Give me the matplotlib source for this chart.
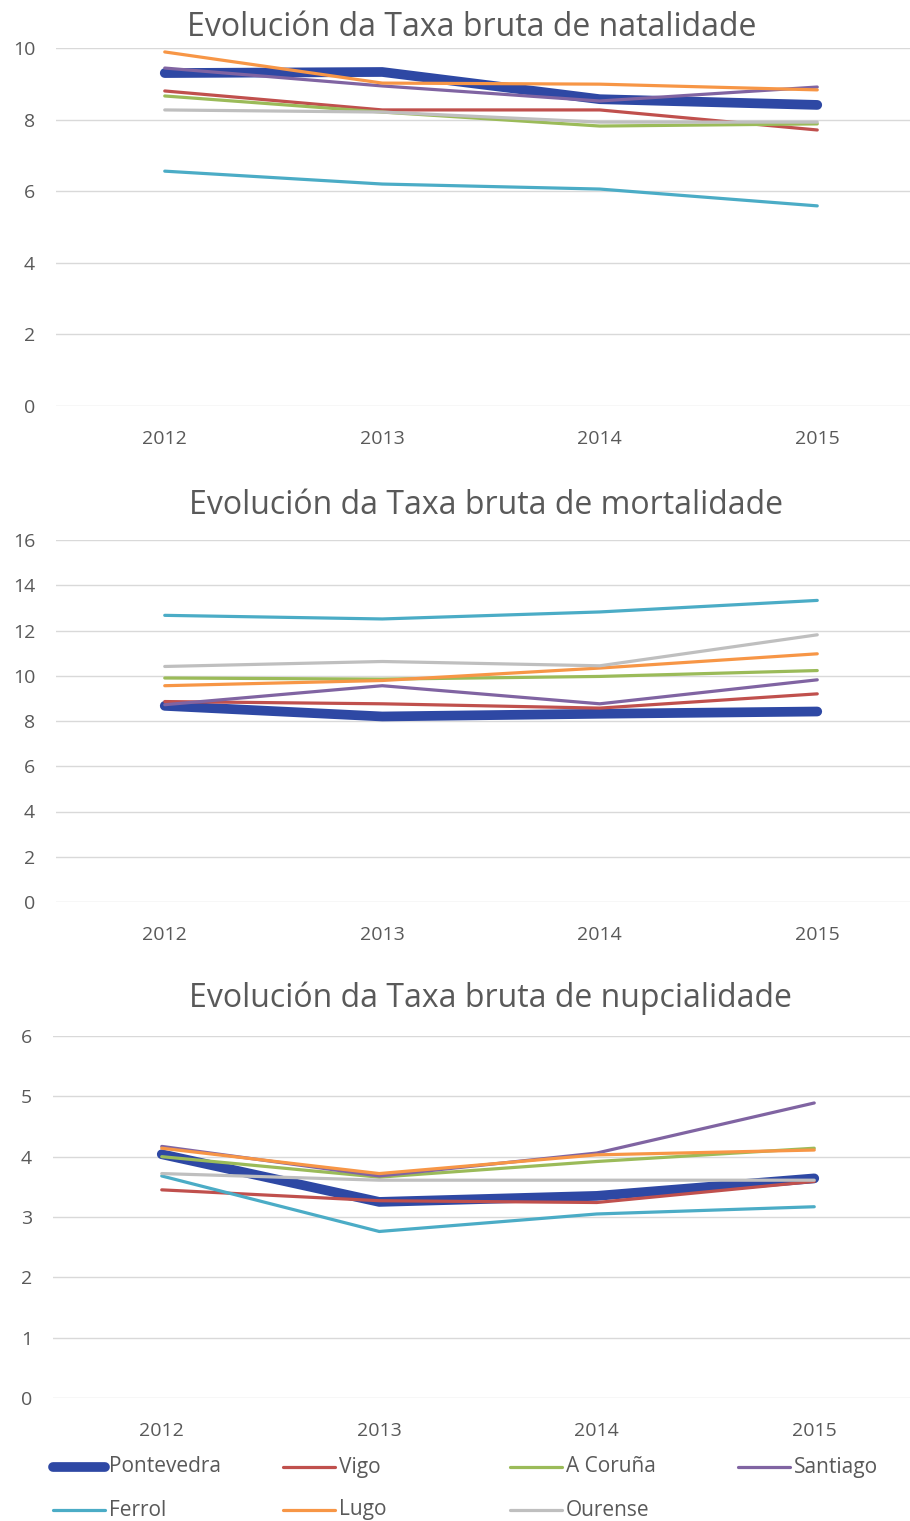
import matplotlib
matplotlib.use('Agg')
import matplotlib.pyplot as plt
from matplotlib.lines import Line2D

plt.rcParams['font.family'] = ['Open Sans', 'DejaVu Sans']

years = ['2012', '2013', '2014', '2015']
cities = ['Pontevedra', 'Vigo', 'A Coruña', 'Santiago', 'Ferrol', 'Lugo', 'Ourense']
colors = ['#2E48A4', '#C0504D', '#9BBB59', '#8064A2', '#4BACC6', '#F79646', '#BFBFBF']

# Taxa bruta de natalidade
natalidade = {
    'Pontevedra': [9.30, 9.33, 8.57, 8.41],
    'Vigo': [8.80, 8.27, 8.27, 7.71],
    'A Coruña': [8.66, 8.21, 7.82, 7.88],
    'Santiago': [9.44, 8.94, 8.52, 8.91],
    'Ferrol': [6.56, 6.20, 6.06, 5.59],
    'Lugo': [9.89, 9.02, 8.99, 8.83],
    'Ourense': [8.27, 8.21, 7.93, 7.93],
}

# Taxa bruta de mortalidade
mortalidade = {
    'Pontevedra': [8.67, 8.20, 8.32, 8.42],
    'Vigo': [8.86, 8.76, 8.57, 9.20],
    'A Coruña': [9.90, 9.85, 9.97, 10.23],
    'Santiago': [8.72, 9.56, 8.76, 9.82],
    'Ferrol': [12.67, 12.51, 12.82, 13.33],
    'Lugo': [9.56, 9.79, 10.34, 10.97],
    'Ourense': [10.41, 10.63, 10.44, 11.81],
}

# Taxa bruta de nupcialidade
nupcialidade = {
    'Pontevedra': [4.04, 3.25, 3.35, 3.64],
    'Vigo': [3.45, 3.27, 3.24, 3.59],
    'A Coruña': [4.00, 3.66, 3.92, 4.14],
    'Santiago': [4.17, 3.68, 4.06, 4.89],
    'Ferrol': [3.68, 2.76, 3.05, 3.17],
    'Lugo': [4.14, 3.72, 4.03, 4.11],
    'Ourense': [3.72, 3.61, 3.61, 3.61],
}

W, H = 910, 1521
fig = plt.figure(figsize=(W / 100, H / 100), dpi=100)

text_col = '#595959'

# (data, title, ymax, ystep, left px, top px, bottom px, title x px, title y px)
panels = [
    (natalidade, 'Evolución da Taxa bruta de natalidade', 10, 2, 56, 48, 406, 472, 28),
    (mortalidade, 'Evolución da Taxa bruta de mortalidade', 16, 2, 56, 540, 902, 486, 505),
    (nupcialidade, 'Evolución da Taxa bruta de nupcialidade', 6, 1, 53, 1036, 1398, 490, 998),
]

for data, title, ymax, ystep, left, top, bottom, tx, ty in panels:
    width = 870
    ax = fig.add_axes([left / W, (H - bottom) / H, width / W, (bottom - top) / H])
    x = range(len(years))
    for city, c in zip(cities, colors):
        lw = 7 if city == 'Pontevedra' else 2.3
        ax.plot(x, data[city], color=c, lw=lw, solid_capstyle='round',
                solid_joinstyle='round')
    ax.set_xlim(-0.5, len(years) - 0.5)
    ax.set_ylim(0, ymax)
    ax.set_yticks(range(0, ymax + 1, ystep))
    ax.set_xticks(list(x))
    ax.set_xticklabels(years)
    ax.grid(axis='y', color='#D9D9D9', lw=1)
    ax.set_axisbelow(True)
    for s in ax.spines.values():
        s.set_visible(False)
    ax.tick_params(length=0, labelsize=14, labelcolor=text_col)
    ax.tick_params(axis='x', pad=17)
    ax.tick_params(axis='y', pad=15)
    fig.text(tx / W, 1 - ty / H, title, ha='center', va='center',
             fontsize=23, color=text_col)

# legend laid out like the spreadsheet's: 4 equal columns
col_x = [50, 280, 507, 735]
row_y = [1467, 1510]
for i, (city, c) in enumerate(zip(cities, colors)):
    cx = col_x[i % 4]
    cy = row_y[i // 4]
    lw = 7 if city == 'Pontevedra' else 2.3
    fig.add_artist(Line2D([(cx + 3) / W, (cx + 55) / W], [1 - cy / H, 1 - cy / H],
                          transform=fig.transFigure, color=c, lw=lw,
                          solid_capstyle='round'))
    fig.text((cx + 59) / W, 1 - cy / H, city, ha='left', va='center',
             fontsize=15, color=text_col)

fig.savefig('out.png', dpi=100)
